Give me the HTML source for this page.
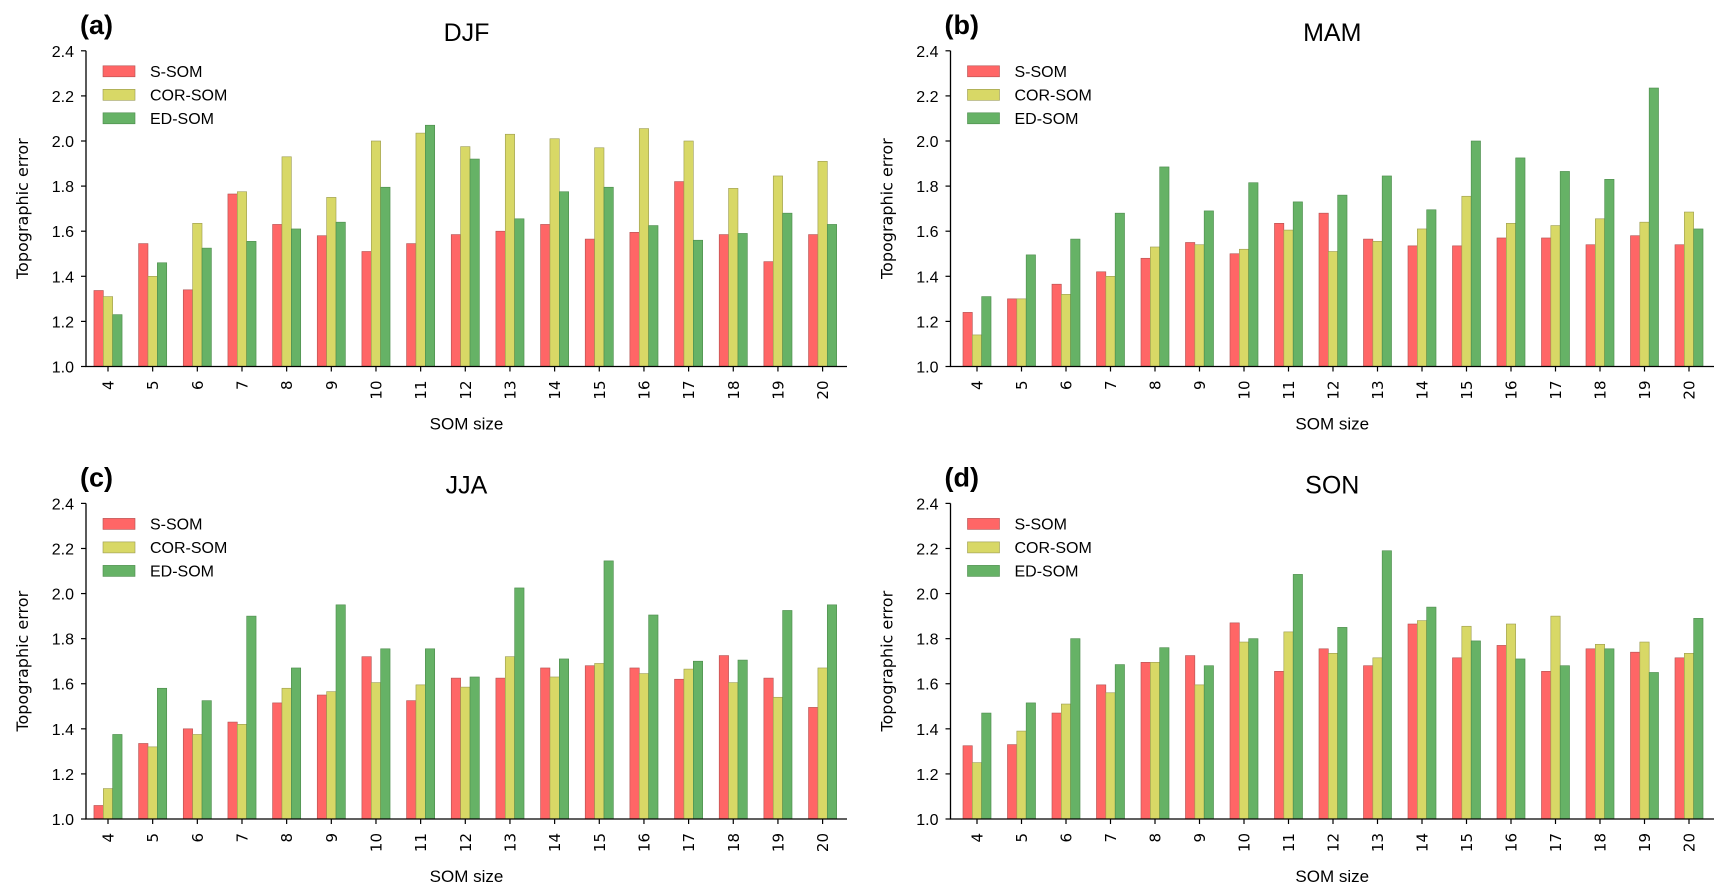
<!DOCTYPE html>
<html><head><meta charset="utf-8"><style>
body{margin:0;background:#fff;}
svg{display:block;font-family:"DejaVu Sans","Liberation Sans",sans-serif;}
</style></head><body>
<svg id="fig" width="1723" height="894" viewBox="0 0 1723 894" xmlns="http://www.w3.org/2000/svg"></svg>
<script>
const categories=[4,5,6,7,8,9,10,11,12,13,14,15,16,17,18,19,20];
const seriesNames=["S-SOM","COR-SOM","ED-SOM"];
const yTicks=[1.0,1.2,1.4,1.6,1.8,2.0,2.2,2.4];
const djfS=[1.337,1.545,1.34,1.765,1.63,1.58,1.51,1.545,1.585,1.60,1.63,1.565,1.595,1.82,1.585,1.465,1.585];
const djfC=[1.31,1.40,1.635,1.775,1.93,1.75,2.0,2.035,1.975,2.03,2.01,1.97,2.055,2.0,1.79,1.845,1.91];
const djfE=[1.23,1.46,1.525,1.555,1.61,1.64,1.795,2.07,1.92,1.655,1.775,1.795,1.625,1.56,1.59,1.68,1.63];
const mamS=[1.24,1.30,1.365,1.42,1.48,1.55,1.50,1.635,1.68,1.565,1.535,1.535,1.57,1.57,1.54,1.58,1.54];
const mamC=[1.14,1.30,1.32,1.40,1.53,1.54,1.52,1.605,1.51,1.555,1.61,1.755,1.635,1.625,1.655,1.64,1.685];
const mamE=[1.31,1.495,1.565,1.68,1.885,1.69,1.815,1.73,1.76,1.845,1.695,2.0,1.925,1.865,1.83,2.235,1.61];
const jjaS=[1.06,1.335,1.40,1.43,1.515,1.55,1.72,1.525,1.625,1.625,1.67,1.68,1.67,1.62,1.725,1.625,1.495];
const jjaC=[1.135,1.32,1.375,1.42,1.58,1.565,1.605,1.595,1.585,1.72,1.63,1.69,1.645,1.665,1.605,1.54,1.67];
const jjaE=[1.375,1.58,1.525,1.90,1.67,1.95,1.755,1.755,1.63,2.025,1.71,2.145,1.905,1.70,1.705,1.925,1.95];
const sonS=[1.325,1.33,1.47,1.595,1.695,1.725,1.87,1.655,1.755,1.68,1.865,1.715,1.77,1.655,1.755,1.74,1.715];
const sonC=[1.25,1.39,1.51,1.56,1.695,1.595,1.785,1.83,1.735,1.715,1.88,1.855,1.865,1.90,1.775,1.785,1.735];
const sonE=[1.47,1.515,1.80,1.685,1.76,1.68,1.80,2.085,1.85,2.19,1.94,1.79,1.71,1.68,1.755,1.65,1.89];

const NS="http://www.w3.org/2000/svg";
const svg=document.getElementById('fig');
const colors=["#ff6666","#d8d866","#66b266"];
const edges=["#b05050","#9a9a50","#4a8a4a"];
function el(tag,attrs,parent,txt){const e=document.createElementNS(NS,tag);for(const k in attrs)e.setAttribute(k,attrs[k]);if(txt!==undefined)e.textContent=txt;(parent||svg).appendChild(e);return e;}

const panels=[
 {id:"a",title:"DJF",data:[djfS,djfC,djfE],left:86,right:847,top:50.8,bottom:366.5,t0:108,t1:822.6},
 {id:"b",title:"MAM",data:[mamS,mamC,mamE],left:950.5,right:1714,top:50.8,bottom:366.5,t0:977,t1:1689},
 {id:"c",title:"JJA",data:[jjaS,jjaC,jjaE],left:86,right:847,top:503.4,bottom:819,t0:108,t1:822.6},
 {id:"d",title:"SON",data:[sonS,sonC,sonE],left:950.5,right:1714,top:503.4,bottom:819,t0:977,t1:1689}
];
panels.forEach(p=>{
 const g=el('g',{});
 
 
 const yS=v=>p.bottom-(v-1.0)/(2.4-1.0)*(p.bottom-p.top);
 const step=(p.t1-p.t0)/(categories.length-1);
 const xS=i=>p.t0+i*step;
 const bw=step*0.21;
 p.data.forEach((arr,s)=>{
  arr.forEach((v,i)=>{
   const x=xS(i)+(s-1)*bw-bw/2;
   const r=el('rect',{x:x,y:yS(v),width:bw,height:p.bottom-yS(v),fill:colors[s],stroke:edges[s],'stroke-width':0.6},g);
   
   
  });
 });
 const ax=el('path',{d:`M${p.left},${p.top} V${p.bottom} H${p.right}`,fill:'none',stroke:'#000','stroke-width':1.3},g);
 
 
 yTicks.forEach(t=>{
  const y=yS(t);
  el('line',{x1:p.left-5,x2:p.left,y1:y,y2:y,stroke:'#000','stroke-width':1.2},g);
  const tl=el('text',{x:p.left-12,y:y+6,'text-anchor':'end','font-size':16,'font-family':'"Liberation Sans",sans-serif'},g,t.toFixed(1));
  
  
 });
 categories.forEach((c,i)=>{
  const x=xS(i);
  el('line',{x1:x,x2:x,y1:p.bottom,y2:p.bottom+5,stroke:'#000','stroke-width':1.2},g);
  const tl=el('text',{x:0,y:0,'text-anchor':'end','font-size':15,transform:`translate(${x+5.5},${p.bottom+14}) rotate(-90)`},g,String(c));
  
  
 });
 const cx=(p.left+p.right)/2;
 const xl=el('text',{x:cx,y:p.bottom+63,'text-anchor':'middle','font-size':17,'font-family':'"Liberation Sans",sans-serif'},g,'SOM size');
 
 
 const ym=(p.top+p.bottom)/2;
 const yl=el('text',{x:0,y:0,'text-anchor':'middle','font-size':16,transform:`translate(${p.left-58},${ym}) rotate(-90)`},g,'Topographic error');
 
 
 const ti=el('text',{x:cx,y:p.top-10,'text-anchor':'middle','font-size':25,'font-family':'"Liberation Sans",sans-serif'},g,p.title);
 
 
 const lb=el('text',{x:p.left-6,y:p.top-17,'font-size':27,'font-weight':'bold','font-family':'"Liberation Sans",sans-serif'},g,'('+p.id+')');
 
 
 seriesNames.forEach((n,s)=>{
  const ly=p.top+15+s*23.5;
  const lr=el('rect',{x:p.left+17,y:ly,width:32,height:11,fill:colors[s],stroke:edges[s],'stroke-width':0.6},g);
  
  
  const lt=el('text',{x:p.left+64,y:ly+11,'font-size':16,'font-family':'"Liberation Sans",sans-serif'},g,n);
  
  
 });
});
</script>
</body></html>
